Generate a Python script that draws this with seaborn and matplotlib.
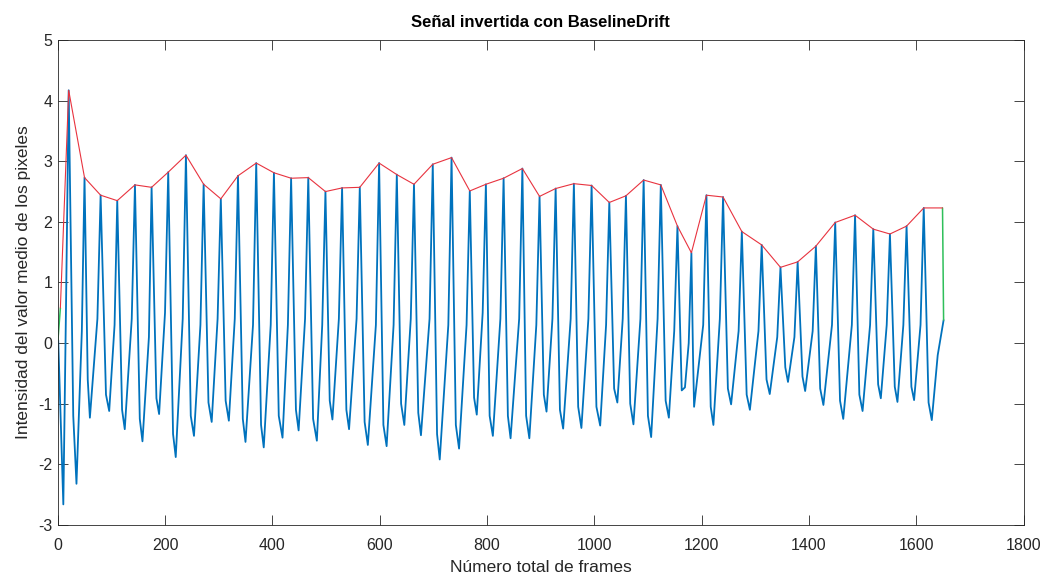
"""Recreate the MATLAB-style inverted signal plot with its peak envelope."""
import matplotlib
matplotlib.use("Agg")
import matplotlib.pyplot as plt
import pandas as pd
import seaborn as sns

# ---- data ----
start_point = (1.0, 0.05)
first_trough = (10.5, -2.66)
end_point = (1651.0, 0.38)

peak_x = [20.5, 50, 80, 111, 144, 175, 206, 239, 272, 304, 336, 370, 403, 435, 467,
          499, 530, 563, 599, 632, 664, 699, 734, 768, 798, 831, 866, 898, 928, 962,
          995, 1028, 1059, 1092, 1124, 1155, 1181, 1209, 1240, 1275, 1312, 1347, 1379,
          1413, 1449, 1486, 1520, 1551, 1582, 1614]
peak_y = [4.17, 2.73, 2.44, 2.35, 2.61, 2.57, 2.82, 3.10, 2.62, 2.38, 2.76, 2.97, 2.81,
          2.72, 2.73, 2.50, 2.56, 2.57, 2.97, 2.78, 2.62, 2.95, 3.06, 2.51, 2.62, 2.72,
          2.88, 2.42, 2.55, 2.63, 2.60, 2.32, 2.43, 2.69, 2.61, 1.93, 1.49, 2.44, 2.41,
          1.84, 1.62, 1.25, 1.34, 1.60, 1.99, 2.11, 1.88, 1.80, 1.93, 2.23]

notch_x = [29, 56, 90, 120, 153, 184, 215, 248, 281, 313, 345, 379, 412, 444, 476,
           507, 538, 572, 607, 640, 672, 707, 742, 776, 805, 839, 873, 906, 936, 970,
           1004, 1037, 1067, 1100, 1133, 1163, 1184, 1217, 1249, 1284, 1321, 1356, 1388,
           1421, 1458, 1494, 1529, 1560, 1591, 1623]
notch_y = [-1.2, -0.6, -0.85, -1.1, -1.25, -0.91, -1.5, -1.2, -0.98, -0.95, -1.25, -1.35,
           -1.2, -1.1, -1.25, -0.95, -1.1, -1.3, -1.35, -1.0, -1.15, -1.5, -1.35, -0.9,
           -1.2, -1.2, -1.2, -0.85, -1.1, -1.05, -1.05, -0.75, -1.0, -1.2, -0.95, -0.78,
           -0.2, -1.05, -0.75, -0.85, -0.6, -0.4, -0.55, -0.75, -0.95, -0.85, -0.68,
           -0.72, -0.72, -0.98]

trough_x = [35, 60, 96, 125, 158, 189, 220, 254, 287, 319, 350, 384, 419, 449, 483,
            512, 543, 578, 613, 646, 677, 712, 748, 781, 811, 844, 879, 911, 942, 976,
            1011, 1043, 1073, 1106, 1139, 1169, 1186, 1222, 1255, 1290, 1327, 1361, 1393,
            1427, 1464, 1500, 1534, 1565, 1596, 1629]
trough_y = [-2.32, -1.23, -1.12, -1.42, -1.62, -1.17, -1.88, -1.53, -1.30, -1.28, -1.63,
            -1.72, -1.56, -1.44, -1.61, -1.26, -1.42, -1.68, -1.70, -1.35, -1.52, -1.92,
            -1.74, -1.18, -1.53, -1.57, -1.57, -1.13, -1.41, -1.40, -1.36, -0.98, -1.34,
            -1.55, -1.23, -0.73, -1.05, -1.35, -1.01, -1.10, -0.84, -0.64, -0.79, -1.02,
            -1.25, -1.12, -0.91, -0.97, -0.94, -1.27]

# knee on the rising edge before each peak (first one before peak 1, last one before the end)
knee_x = [15.5, 45, 74, 106, 138, 170, 200, 233, 266, 298, 330, 364, 397, 429, 461,
          493, 524, 557, 593, 626, 658, 693, 728, 762, 792, 825, 860, 892, 922, 956,
          989, 1022, 1053, 1086, 1118, 1149, 1176, 1203, 1234, 1269, 1306, 1341, 1373,
          1407, 1443, 1480, 1514, 1545, 1576, 1608, 1640]
knee_y = [0.6, 0.2, 0.4, 0.3, 0.4, 0.1, 0.5, 0.4, 0.3, 0.4, 0.4, 0.3, 0.3, 0.3, 0.4,
          0.3, 0.4, 0.4, 0.3, 0.3, 0.4, 0.4, 0.3, 0.3, 0.5, 0.4, 0.4, 0.3, 0.4, 0.4,
          0.4, 0.3, 0.4, 0.4, 0.4, 0.2, 0.0, 0.3, 0.4, 0.2, 0.2, 0.1, 0.1, 0.2, 0.3,
          0.3, 0.3, 0.3, 0.3, 0.3, -0.2]

env_start = (5.0, 0.58)
env_end = (1649.0, 2.23)
green_start_x = [0.5, 5.0]
green_start_y = [0.05, 0.58]
green_end_x = [1649.0, 1651.0]
green_end_y = [2.23, 0.38]

x_ticks = [0, 200, 400, 600, 800, 1000, 1200, 1400, 1600, 1800]
y_ticks = [-3, -2, -1, 0, 1, 2, 3, 4, 5]


def build_signal():
    xs = [start_point[0], first_trough[0], knee_x[0]]
    ys = [start_point[1], first_trough[1], knee_y[0]]
    for i in range(len(peak_x)):
        xs += [peak_x[i], notch_x[i], trough_x[i], knee_x[i + 1]]
        ys += [peak_y[i], notch_y[i], trough_y[i], knee_y[i + 1]]
    xs.append(end_point[0])
    ys.append(end_point[1])
    return pd.DataFrame({"frame": xs, "valor": ys})


def main() -> None:
    sns.set_theme(style="ticks")
    plt.rcParams["font.family"] = ["Liberation Sans", "DejaVu Sans"]
    plt.rcParams["axes.unicode_minus"] = False
    dark = "#262626"

    signal = build_signal()
    envelope = pd.DataFrame({
        "frame": [env_start[0]] + peak_x + [env_end[0]],
        "valor": [env_start[1]] + peak_y + [env_end[1]],
    })

    fig = plt.figure(figsize=(10.47, 5.78), dpi=100)
    ax = fig.add_axes([0.0551, 0.0917, 0.9225, 0.8391])

    sns.lineplot(data=signal, x="frame", y="valor", sort=False, estimator=None,
                 color="#0072BD", linewidth=1.3, ax=ax)
    sns.lineplot(x=green_start_x, y=green_start_y, sort=False, estimator=None,
                 color="#2fbf5a", linewidth=1.1, ax=ax)
    sns.lineplot(x=green_end_x, y=green_end_y, sort=False, estimator=None,
                 color="#2fbf5a", linewidth=1.1, ax=ax)
    sns.lineplot(data=envelope, x="frame", y="valor", sort=False, estimator=None,
                 color="#e8333f", linewidth=0.8, ax=ax)

    ax.set_xlim(0, 1800)
    ax.set_ylim(-3, 5)
    ax.set_xticks(x_ticks)
    ax.set_yticks(y_ticks)
    ax.tick_params(direction="in", length=7, width=0.6, colors=dark,
                   labelsize=11.5, top=True, right=True, pad=4)
    ax.tick_params(axis="x", pad=9.5)
    for side in ax.spines.values():
        side.set_color(dark)
        side.set_linewidth(0.6)

    ax.set_title("Señal invertida con BaselineDrift", fontsize=12, fontweight="bold",
                 color="black", pad=9)
    ax.set_xlabel("Número total de frames", fontsize=12.5, color=dark, labelpad=5)
    ax.set_ylabel("Intensidad del valor medio de los pixeles", fontsize=12.5,
                  color=dark, labelpad=5)

    fig.savefig("out.png", dpi=100)
    plt.close(fig)


if __name__ == "__main__":
    main()
